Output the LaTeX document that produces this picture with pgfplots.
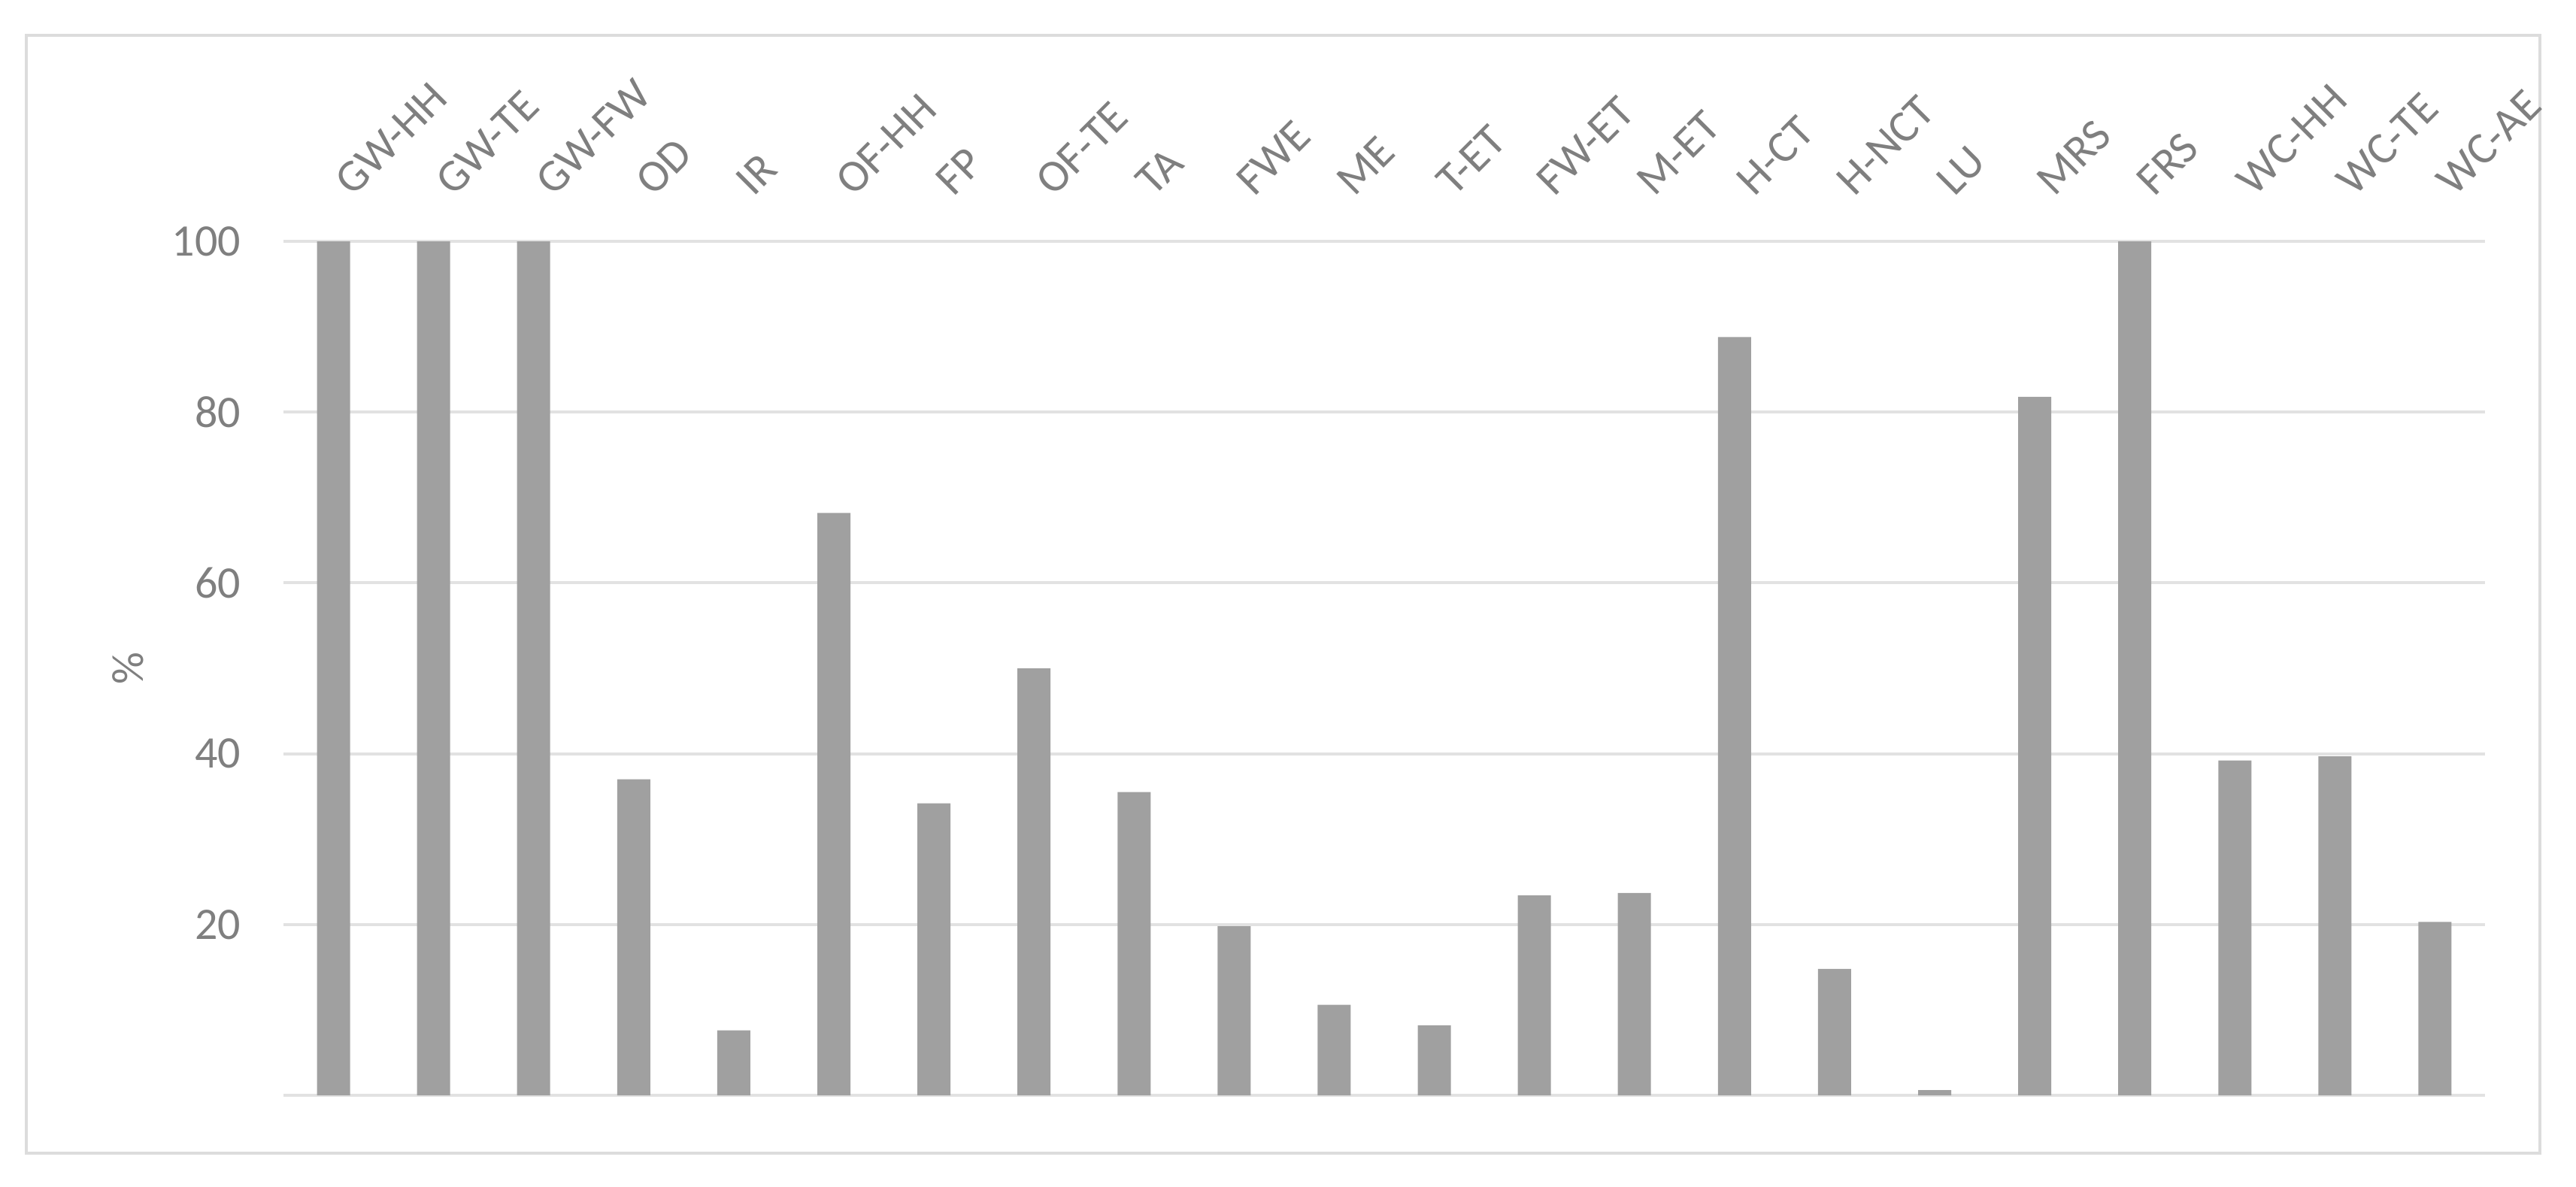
\documentclass[border=0pt]{standalone}
\usepackage{fontspec}
\setmainfont{Carlito}
\usepackage{pgfplots}
\pgfplotsset{compat=1.18}
\definecolor{bargray}{HTML}{A0A0A0}
\definecolor{gridgray}{HTML}{E2E2E2}
\definecolor{txtgray}{HTML}{7F7F7F}
\definecolor{framegray}{HTML}{DCDCDC}

\begin{document}
\begin{tikzpicture}
% whole image extent and outer chart frame (axis box has its south west at 0,0)
\path[use as bounding box] (-56.55pt,-18.15pt) rectangle (457.35pt,218.55pt);
\draw[framegray, line width=0.7pt] (-51.3pt,-11.55pt) rectangle (450.15pt,211.5pt);
\begin{axis}[
  at={(0,0)}, anchor=south west,
  scale only axis,
  width=439.2pt, height=170.4pt,
  ybar, bar width=6.6pt,
  xmin=-0.5, xmax=21.5,
  ymin=0, ymax=100,
  enlargelimits=false,
  clip=false,
  axis line style={draw=none},
  major tick length=0pt,
  ymajorgrids,
  grid style={gridgray, line width=0.6pt},
  ytick={0,20,...,100},
  yticklabels={,20,40,60,80,100},
  xtick={0,...,21},
  xticklabels={GW-HH,GW-TE,GW-FW,OD,IR,OF-HH,FP,OF-TE,TA,FWE,ME,T-ET,FW-ET,M-ET,H-CT,H-NCT,LU,MRS,FRS,WC-HH,WC-TE,WC-AE},
  xticklabel pos=right,
  xticklabel shift=8.5pt,
  xticklabel style={xshift=4pt, rotate=45, anchor=south west, inner sep=0pt, font=\fontsize{9}{11}\selectfont},
  yticklabel style={font=\fontsize{9}{11}\selectfont, xshift=-5pt},
  tick label style={txtgray},
  /pgf/number format/assume math mode=true,
  ylabel={\%},
  ylabel style={at={(axis description cs:-0.0706,0.5)}, anchor=center, txtgray, font=\fontsize{9}{11}\selectfont},
]
\addplot[fill=bargray, draw=none] coordinates {
  (0,100) (1,100) (2,100) (3,37.0) (4,7.6) (5,68.2) (6,34.2) (7,50.0)
  (8,35.5) (9,19.8) (10,10.6) (11,8.2) (12,23.4) (13,23.7) (14,88.8)
  (15,14.8) (16,0.6) (17,81.8) (18,100) (19,39.2) (20,39.7) (21,20.3)
};
\end{axis}
\end{tikzpicture}
\end{document}
